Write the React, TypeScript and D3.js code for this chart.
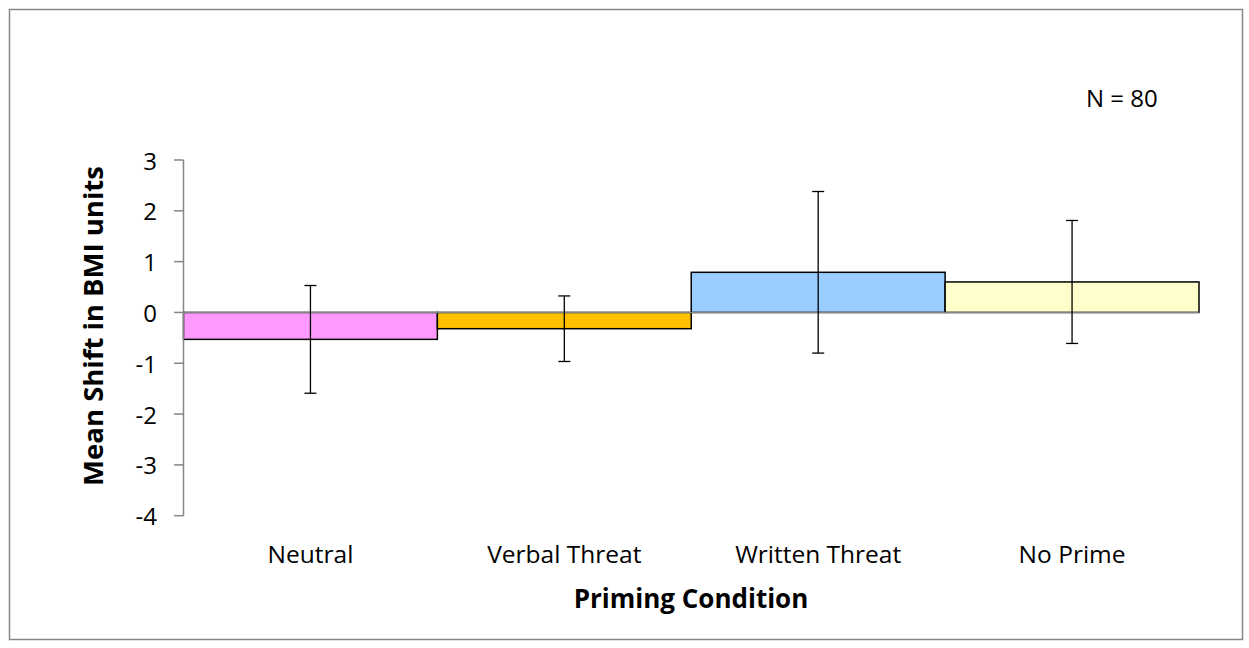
import React from "react";
import * as d3 from "d3";

const categories = ["Neutral", "Verbal Threat", "Written Threat", "No Prime"];
const means = [-0.53, -0.32, 0.79, 0.6];
const errors = [1.06, 0.645, 1.59, 1.21];
const colors = ["#FF99FF", "#FFC000", "#99CCFF", "#FFFFCC"];
const yTicks = [-4, -3, -2, -1, 0, 1, 2, 3];

const W = 1249;
const H = 648;
const FONT = "'Open Sans', sans-serif";

export default function App() {
  const x = d3.scaleBand<string>().domain(categories).range([183.5, 1199]).padding(0);
  const y = d3.scaleLinear().domain([-4, 3]).range([515.7, 160]);
  const bw = x.bandwidth();
  const axisColor = "#868686";

  return (
    <svg
      width={W}
      height={H}
      style={{ position: "absolute", left: 0, top: 0, background: "#fff" }}
    >
      <rect x={9.5} y={9.5} width={1233} height={630} fill="#fff" stroke="#878787" strokeWidth={1.5} />

      {categories.map((c, i) => {
        const v = means[i];
        return (
          <rect
            key={c}
            x={x(c)!}
            y={y(Math.max(0, v))}
            width={bw}
            height={Math.abs(y(v) - y(0))}
            fill={colors[i]}
            stroke="#000"
            strokeWidth={1.5}
          />
        );
      })}

      {/* zero line */}
      <line x1={183.5} x2={1199} y1={y(0)} y2={y(0)} stroke={axisColor} strokeWidth={1.5} />

      {/* y axis */}
      <line x1={183.5} x2={183.5} y1={y(3)} y2={y(-4)} stroke={axisColor} strokeWidth={1.5} />
      {yTicks.map((t) => (
        <g key={t}>
          <line x1={174} x2={183.5} y1={y(t)} y2={y(t)} stroke={axisColor} strokeWidth={1.5} />
          <text
            x={157}
            y={y(t)}
            textAnchor="end"
            dominantBaseline="central"
            fontFamily={FONT}
            fontSize={24}
            fill="#000"
          >
            {t}
          </text>
        </g>
      ))}

      {/* error bars */}
      {categories.map((c, i) => {
        const cx = x(c)! + bw / 2;
        const lo = y(means[i] - errors[i]);
        const hi = y(means[i] + errors[i]);
        return (
          <g key={"e" + c} stroke="#000" strokeWidth={1.3}>
            <line x1={cx} x2={cx} y1={lo} y2={hi} />
            <line x1={cx - 6} x2={cx + 6} y1={lo} y2={lo} />
            <line x1={cx - 6} x2={cx + 6} y1={hi} y2={hi} />
          </g>
        );
      })}

      {/* category labels */}
      {categories.map((c) => (
        <text
          key={"l" + c}
          x={x(c)! + bw / 2}
          y={563}
          textAnchor="middle"
          fontFamily={FONT}
          fontSize={24.5}
          fill="#000"
        >
          {c}
        </text>
      ))}

      <text x={691} y={608} textAnchor="middle" fontFamily={FONT} fontSize={26} fontWeight="bold" fill="#000">
        Priming Condition
      </text>

      <text
        transform="translate(103,326) rotate(-90)"
        textAnchor="middle"
        fontFamily={FONT}
        fontSize={27.5}
        fontWeight="bold"
        fill="#000"
      >
        Mean Shift in BMI units
      </text>

      <text x={1086} y={107} fontFamily={FONT} fontSize={24} fill="#000">
        N = 80
      </text>
    </svg>
  );
}
